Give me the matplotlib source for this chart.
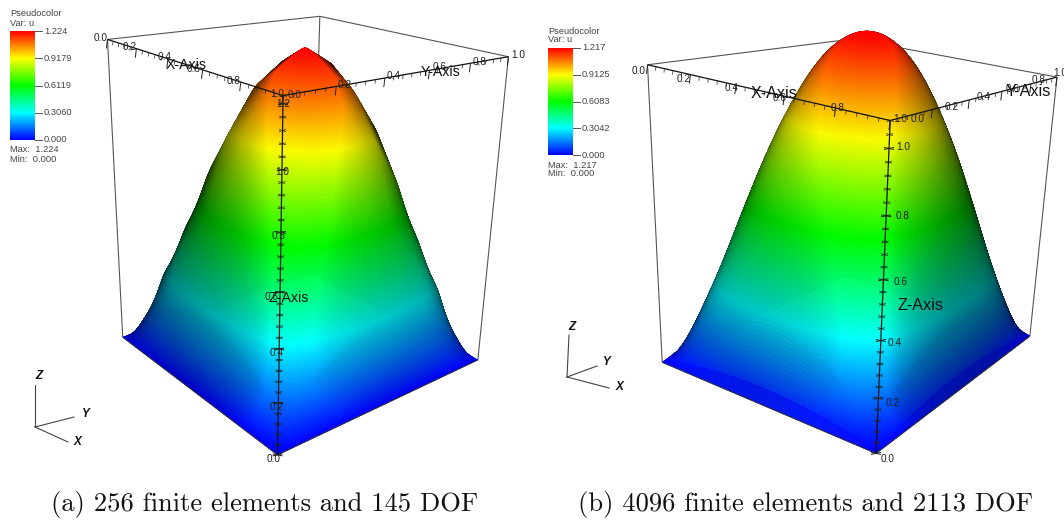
#!/usr/bin/env python3
"""Two VisIt style pseudocolor surfaces of u, drawn side by side."""

import numpy as np
import matplotlib
matplotlib.use("Agg")
import matplotlib.pyplot as plt
from matplotlib.collections import PolyCollection, LineCollection
from matplotlib.colors import LinearSegmentedColormap

plt.rcParams['font.family'] = ['Liberation Sans', 'DejaVu Sans']

# u on one quadrant of the unit square (the rest is mirrored)
u_quad_a = [
    [0.000, 0.000, 0.000, 0.000, 0.000, 0.000, 0.000, 0.000, 0.000],
    [0.000, 0.090, 0.150, 0.180, 0.215, 0.240, 0.260, 0.270, 0.275],
    [0.000, 0.150, 0.300, 0.365, 0.430, 0.475, 0.520, 0.535, 0.550],
    [0.000, 0.180, 0.365, 0.500, 0.575, 0.640, 0.710, 0.730, 0.750],
    [0.000, 0.215, 0.430, 0.575, 0.720, 0.810, 0.900, 0.925, 0.950],
    [0.000, 0.240, 0.475, 0.640, 0.810, 0.900, 0.985, 1.020, 1.050],
    [0.000, 0.260, 0.520, 0.710, 0.900, 0.985, 1.070, 1.110, 1.150],
    [0.000, 0.270, 0.535, 0.730, 0.925, 1.020, 1.110, 1.150, 1.187],
    [0.000, 0.275, 0.550, 0.750, 0.950, 1.050, 1.150, 1.187, 1.224],
]
u_quad_b = [
    [0.000, 0.000, 0.000, 0.000, 0.000, 0.000, 0.000, 0.000, 0.000],
    [0.000, 0.105, 0.174, 0.230, 0.275, 0.311, 0.337, 0.352, 0.357],
    [0.000, 0.174, 0.295, 0.381, 0.457, 0.516, 0.558, 0.584, 0.592],
    [0.000, 0.230, 0.381, 0.530, 0.620, 0.690, 0.738, 0.772, 0.783],
    [0.000, 0.275, 0.457, 0.620, 0.760, 0.840, 0.890, 0.925, 0.938],
    [0.000, 0.311, 0.516, 0.690, 0.840, 0.950, 1.015, 1.050, 1.060],
    [0.000, 0.337, 0.558, 0.738, 0.890, 1.015, 1.100, 1.140, 1.150],
    [0.000, 0.352, 0.584, 0.772, 0.925, 1.050, 1.140, 1.185, 1.200],
    [0.000, 0.357, 0.592, 0.783, 0.938, 1.060, 1.150, 1.200, 1.217],
]

axis_ticks = ["0.0", "0.2", "0.4", "0.6", "0.8", "1.0"]
z_ticks_a = ["0.0", "0.2", "0.4", "0.6", "0.8", "1.0", "1.2"]
z_ticks_b = ["0.0", "0.2", "0.4", "0.6", "0.8", "1.0"]
bar_labels_a = ["1.224", "0.9179", "0.6119", "0.3060", "0.000"]
bar_labels_b = ["1.217", "0.9125", "0.6083", "0.3042", "0.000"]
caption_a = "(a) 256 finite elements and 145 DOF"
caption_b = "(b) 4096 finite elements and 2113 DOF"

# VisIt "hot" table
jet = LinearSegmentedColormap.from_list(
    "visit_hot", ["#0000ff", "#00ffff", "#00ff00", "#ffff00", "#ff0000"])

# picture layout, in pixels
panel_a = dict(
    u=u_quad_a, zmax=1.224, ztop=1.224, geo_w=5, lit_w=41, light=(0.50, -0.40, 0.77),
    box=[((0, 0, 0), (123, 337)), ((1, 0, 0), (277, 455)), ((1, 1, 0), (478, 360)),
         ((0, 0, 1), (107, 40)), ((1, 0, 1), (284, 95)), ((1, 1, 1), (508, 57)),
         ((0, 1, 1), (320, 16))],
    x_lab=[(101, 38), (130, 47), (165, 57), (194, 69), (234, 81), (277, 94)],
    y_lab=[(295, 95), (345, 85), (394, 76), (440, 67), (480, 62), (518, 55)],
    z_lab=[(274, 459), (277, 407), (277, 353), (272, 297), (279, 236), (282, 172), (283, 104)],
    z_ticks=z_ticks_a,
    x_title=(186, 65), y_title=(441, 72), z_title=(289, 298), title_size=10.2,
    bar=(10, 35, 31, 140), bar_labels=bar_labels_a, head_y=(14, 23), foot_y=(150, 159),
    foot="1.224",
    triad=dict(o=(35, 427), z=(35, 385), y=(74, 417), x=(68, 442),
               zl=(39, 376), yl=(85, 414), xl=(77, 442)),
    caption=caption_a, cap_x=264.5)

panel_b = dict(
    u=u_quad_b, zmax=1.217, ztop=1.08, geo_w=21, lit_w=31, light=(0.35, -0.52, 0.78),
    box=[((0, 0, 0), (657, 358)), ((1, 0, 0), (888, 453)), ((1, 1, 0), (1025, 340)),
         ((0, 0, 1), (646, 72)), ((1, 0, 1), (885, 118)), ((1, 1, 1), (1056, 75)),
         ((0, 1, 1), (858, 37))],
    x_lab=[(639, 71), (684, 79), (732, 88), (780, 98), (838, 108), (900, 119)],
    y_lab=[(918, 119), (952, 107), (984, 97), (1013, 89), (1039, 80), (1060, 73)],
    z_lab=[(888, 459), (893, 403), (895, 343), (901, 282), (903, 216), (903, 147)],
    z_ticks=z_ticks_b,
    x_title=(774, 93), y_title=(1028, 92), z_title=(921, 306), title_size=11.6,
    bar=(548, 573, 48, 155), bar_labels=bar_labels_b, head_y=(31, 40), foot_y=(165, 173),
    foot="1.217",
    triad=dict(o=(567, 377), z=(569, 335), y=(597, 366), x=(609, 388),
               zl=(572, 327), yl=(606, 362), xl=(619, 387)),
    caption=caption_b, cap_x=805)


def mirror(quad):
    q = np.array(quad)
    top = np.hstack([q, q[:, -2::-1]])
    return np.vstack([top, top[-2::-1, :]])


def fit_camera(box, ztop):
    # projection matrix from the box corners, direct linear transform
    rows = []
    for (x, y, z), (px, py) in box:
        X = [x, y, z * ztop, 1.0]
        rows.append(X + [0, 0, 0, 0] + [-px * c for c in X])
        rows.append([0, 0, 0, 0] + X + [-py * c for c in X])
    _, _, vt = np.linalg.svd(np.array(rows, dtype=float))
    return vt[-1].reshape(3, 4)


def project(P, x, y, z):
    h = P @ np.vstack([x, y, z, np.ones_like(x)])
    return h[0] / h[2], h[1] / h[2]


def to_fine(u, m):
    coarse = np.linspace(0, 1, u.shape[0])
    fine = np.linspace(0, 1, m)
    tmp = np.array([np.interp(fine, coarse, row) for row in u])
    return np.array([np.interp(fine, coarse, col) for col in tmp.T]).T


def soften(f, w, zmax):
    # box filter along both axes, twice, so the facets blend
    kernel = np.ones(w) / w
    out = f
    for _ in range(2):
        out = np.array([np.convolve(row, kernel, mode="same") for row in out])
        out = np.array([np.convolve(col, kernel, mode="same") for col in out.T]).T
    return out * zmax / out.max()


def draw_surface(ax, P, p):
    m = 321
    u = to_fine(mirror(p["u"]), m)
    geo = soften(u, p["geo_w"], p["zmax"])
    geo[0, :] = geo[-1, :] = geo[:, 0] = geo[:, -1] = 0.0
    shade = soften(u, p["lit_w"], p["zmax"])
    line = np.linspace(0, 1, m)
    fx, fy = np.meshgrid(line, line, indexing="ij")

    sx, sy = project(P, fx.ravel(), fy.ravel(), geo.ravel())
    sx = sx.reshape(m, m)
    sy = sy.reshape(m, m)

    # normals from a softer copy of the field, one fixed light
    k = 1.2
    dx, dy = np.gradient(shade * k, line, line)
    normal = np.stack([-dx, -dy, np.ones_like(dx)], axis=-1)
    normal /= np.linalg.norm(normal, axis=-1, keepdims=True)
    lit = np.clip((normal * np.array(p["light"])).sum(axis=-1) * 1.3, 0.2, 1) ** 1.3

    def cell(f):
        return (f[:-1, :-1] + f[1:, :-1] + f[:-1, 1:] + f[1:, 1:]) / 4.0

    rgb = jet(cell(geo) / p["zmax"])[..., :3] * cell(lit)[..., None]
    verts = np.stack([
        np.stack([sx[:-1, :-1], sx[1:, :-1], sx[1:, 1:], sx[:-1, 1:]], axis=-1),
        np.stack([sy[:-1, :-1], sy[1:, :-1], sy[1:, 1:], sy[:-1, 1:]], axis=-1)], axis=-1)

    # back corner first, front corner last
    key = cell(fx) - cell(fy)
    order = np.argsort(key.ravel())
    verts = verts.reshape(-1, 4, 2)[order]
    rgb = rgb.reshape(-1, 3)[order]
    ax.add_collection(PolyCollection(verts, facecolors=rgb, edgecolors=rgb,
                                     linewidths=0.4, zorder=3))


def edge(P, a, b, zt):
    xs, ys = project(P, np.array([a[0], b[0]], float), np.array([a[1], b[1]], float),
                     np.array([a[2] * zt, b[2] * zt], float))
    return list(zip(xs, ys))


def draw_box(ax, P, p):
    zt = p["ztop"]
    back = [((0, 0, 1), (0, 1, 1)), ((0, 1, 1), (1, 1, 1)), ((0, 1, 1), (0, 1, 0))]
    side = [((0, 0, 0), (0, 0, 1)), ((1, 1, 0), (1, 1, 1))]
    segs = [edge(P, a, b, zt) for a, b in back + side]
    ax.add_collection(LineCollection(segs, colors="#555555", linewidths=0.8, zorder=2))
    base = [((0, 0, 0), (1, 0, 0)), ((1, 0, 0), (1, 1, 0))]
    segs = [edge(P, a, b, zt) for a, b in base]
    ax.add_collection(LineCollection(segs, colors="#333333", linewidths=0.7, zorder=4))


def draw_axes(ax, P, p):
    zt = p["ztop"]
    main, minor, major = [], [], []
    # top edges carry the X and Y ticks, front edge the Z ticks
    main.append(edge(P, (0, 0, 1), (1, 0, 1), zt))
    main.append(edge(P, (1, 0, 1), (1, 1, 1), zt))
    main.append(edge(P, (1, 0, 0), (1, 0, 1), zt))
    for i in range(26):
        t = i / 25.0
        lst, h = (major, 9) if i % 5 == 0 else (minor, 4)
        for q in [(t, 0.0), (1.0, t)]:
            px, py = project(P, np.array([q[0]]), np.array([q[1]]), np.array([zt]))
            lst.append([(px[0], py[0]), (px[0] - h * 0.12, py[0] + h)])
    for i in range(int(zt / 0.04 + 0.5) + 1):
        z = min(i * 0.04, zt)
        px, py = project(P, np.array([1.0]), np.array([0.0]), np.array([z]))
        w = 5 if i % 5 == 0 else 3.5
        lst = major if i % 5 == 0 else minor
        lst.append([(px[0] - w, py[0] - 1), (px[0] + w, py[0] + 1)])
        lst.append([(px[0] - w, py[0] + 1), (px[0] + w, py[0] - 1)])
    ax.add_collection(LineCollection(main, colors="#111111", linewidths=0.9, zorder=5))
    ax.add_collection(LineCollection(minor, colors="#222222", linewidths=0.5, zorder=5))
    ax.add_collection(LineCollection(major, colors="#222222", linewidths=0.7, zorder=5))

    for names, spots in [(axis_ticks, p["x_lab"]), (axis_ticks, p["y_lab"]),
                         (p["z_ticks"], p["z_lab"])]:
        for name, (tx, ty) in zip(names, spots):
            ax.text(tx, ty, name, ha="center", va="center", fontsize=7.2,
                    color="#222222", zorder=6, clip_on=True)
    size = p["title_size"]
    for name, (tx, ty) in [("X-Axis", p["x_title"]), ("Y-Axis", p["y_title"]),
                           ("Z-Axis", p["z_title"])]:
        ax.text(tx, ty, name, ha="center", va="center", fontsize=size,
                color="#111111", zorder=6)


def draw_legend(ax, p):
    x0, x1, y0, y1 = p["bar"]
    grad = np.linspace(1, 0, 256)[:, None]
    ax.imshow(grad, cmap=jet, extent=(x0, x1, y1, y0), aspect="auto", zorder=3)
    style = dict(fontsize=6.7, color="#444444", va="center")
    for i, name in enumerate(p["bar_labels"]):
        y = y0 + (y1 - y0) * i / 4.0
        ax.plot([x1, x1 + 7], [y, y], color="#555555", lw=0.7, zorder=3)
        ax.text(x1 + 9, y, name, ha="left", **style)
    ax.text(x0, p["head_y"][0], "Pseudocolor", ha="left", **style)
    ax.text(x0, p["head_y"][1], "Var: u", ha="left", **style)
    ax.text(x0, p["foot_y"][0], "Max:  " + p["foot"], ha="left", **style)
    ax.text(x0, p["foot_y"][1], "Min:  0.000", ha="left", **style)


def draw_triad(ax, p):
    t = p["triad"]
    for end, spot, name in [("z", "zl", "Z"), ("y", "yl", "Y"), ("x", "xl", "X")]:
        ax.plot([t["o"][0], t[end][0]], [t["o"][1], t[end][1]], color="#444444", lw=0.8)
        ax.text(t[spot][0], t[spot][1], name, ha="center", va="center", fontsize=8.5,
                style="italic", weight="bold", color="#111111")


fig = plt.figure(figsize=(10.64, 5.25), dpi=100)
ax = fig.add_axes([0, 0, 1, 1])

for panel in [panel_a, panel_b]:
    P = fit_camera(panel["box"], panel["ztop"])
    draw_box(ax, P, panel)
    draw_surface(ax, P, panel)
    draw_axes(ax, P, panel)
    draw_legend(ax, panel)
    draw_triad(ax, panel)
    ax.text(panel["cap_x"], 505, panel["caption"], ha="center", va="center",
            fontsize=19.1, family="cmr10", color="#111111")

ax.set_xlim(0, 1064)
ax.set_ylim(525, 0)
ax.axis("off")
fig.savefig("out.png", dpi=100, facecolor="white")
